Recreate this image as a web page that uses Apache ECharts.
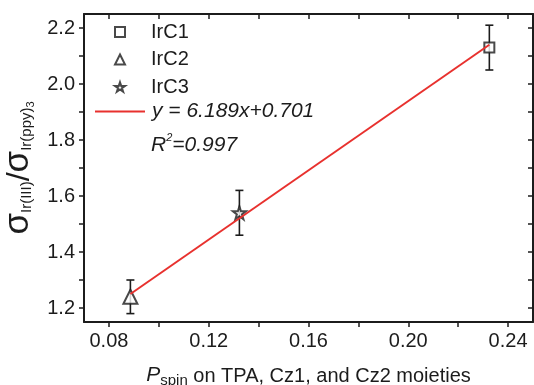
<!DOCTYPE html>
<html>
<head>
<meta charset="utf-8">
<script src="https://cdn.jsdelivr.net/npm/echarts@6/dist/echarts.min.js"></script>
<style>
html,body{margin:0;padding:0;background:#fff;}
#chart{width:534px;height:385px;}
</style>
</head>
<body>
<div id="chart"></div>
<script>
// ---- data ----
const names = ['IrC1', 'IrC2', 'IrC3'];
const pspin = [0.2325, 0.0886, 0.1323];
const sigmaRatio = [2.13, 1.24, 1.54];
const sigmaErr = [0.08, 0.06, 0.08];
const fitX = [0.0886, 0.2325];
const fitY = [1.25, 2.14];
const fitLabel = 'y = 6.189x+0.701';
const r2Label = '0.997';
// ---- ticks ----
const xTicks = [0.08, 0.10, 0.12, 0.14, 0.16, 0.18, 0.20, 0.22, 0.24];
const xLabels = [0.08, 0.12, 0.16, 0.20, 0.24];
const yTicks = [1.2, 1.3, 1.4, 1.5, 1.6, 1.7, 1.8, 1.9, 2.0, 2.1, 2.2];
const yLabels = [1.2, 1.4, 1.6, 1.8, 2.0, 2.2];
const xRange = [0.07, 0.25];
const yRange = [1.15, 2.25];

const FONT = 'Liberation Sans, Arial, sans-serif';
const INK = '#1c1c1c';
const RED = '#e8312e';
const STAR = 'path://M50,0 L61.8,35.4 L99,35.4 L69,57.3 L80.4,92.7 L50,70.8 L19.6,92.7 L31,57.3 L1,35.4 L38.2,35.4 Z';
const symbols = ['rect', 'triangle', STAR];
const symbolSizes = [10, 14, 13];

const chart = echarts.init(document.getElementById('chart'), null, {renderer: 'canvas'});

const axisLineStyle = {show: true, lineStyle: {color: INK, width: 2}};
const tickStyle = {color: INK, width: 1.5};

const scatterSeries = names.map((n, i) => ({
  name: n,
  type: 'scatter',
  xAxisIndex: 0, yAxisIndex: 0,
  symbol: symbols[i],
  symbolSize: symbolSizes[i],
  itemStyle: {color: '#fff', borderColor: INK, borderWidth: 2},
  z: 4,
  data: [[pspin[i], sigmaRatio[i]]]
}));

const errSeries = {
  type: 'custom',
  xAxisIndex: 0, yAxisIndex: 0,
  silent: true,
  z: 2,
  data: names.map((n, i) => [pspin[i], sigmaRatio[i], sigmaErr[i]]),
  renderItem: function (params, api) {
    const x = api.value(0), y = api.value(1), e = api.value(2);
    const top = api.coord([x, y + e]);
    const bot = api.coord([x, y - e]);
    const w = 4;
    const st = {stroke: INK, lineWidth: 1.6};
    return {
      type: 'group',
      children: [
        {type: 'line', shape: {x1: top[0], y1: top[1], x2: bot[0], y2: bot[1]}, style: st},
        {type: 'line', shape: {x1: top[0] - w, y1: top[1], x2: top[0] + w, y2: top[1]}, style: st},
        {type: 'line', shape: {x1: bot[0] - w, y1: bot[1], x2: bot[0] + w, y2: bot[1]}, style: st}
      ]
    };
  }
};

const fitSeries = {
  name: fitLabel,
  type: 'line',
  xAxisIndex: 0, yAxisIndex: 0,
  symbol: 'none',
  z: 5,
  lineStyle: {color: RED, width: 2},
  itemStyle: {color: RED},
  data: fitX.map((x, i) => [x, fitY[i]])
};

const option = {
  backgroundColor: '#fff',
  animation: false,
  textStyle: {fontFamily: FONT, color: INK},
  grid: {left: 84, right: 1, top: 14, bottom: 63, outerBoundsMode: 'none', containLabel: false},
  legend: [
    {
      data: names,
      orient: 'vertical',
      left: 114, top: 22,
      padding: 0,
      itemWidth: 10, itemHeight: 10,
      itemGap: 7.5,
      selectedMode: false,
      itemStyle: {borderWidth: 2, borderColor: INK, color: '#fff'},
      formatter: '{a|{name}}',
      textStyle: {
        fontFamily: FONT, fontSize: 20, color: INK,
        rich: {a: {fontFamily: FONT, fontSize: 20, color: INK, padding: [0, 0, 0, 21]}}
      }
    },
    {
      data: [{name: fitLabel, icon: 'rect', itemStyle: {color: RED, borderWidth: 0}}],
      orient: 'vertical',
      left: 95, top: 101,
      padding: 0,
      itemWidth: 50, itemHeight: 2,
      selectedMode: false,
      formatter: '{a|{name}}',
      textStyle: {
        fontFamily: FONT, fontSize: 21, fontStyle: 'italic', color: INK,
        rich: {a: {fontFamily: FONT, fontSize: 21, fontStyle: 'italic', color: INK, padding: [0, 0, 0, 2]}}
      }
    }
  ],
  graphic: [{
    type: 'text',
    left: 151, top: 132,
    style: {
      text: '{r|R}{sup|2}{r|=' + r2Label + '}',
      rich: {
        r: {fontFamily: FONT, fontSize: 21, fontStyle: 'italic', fill: INK, lineHeight: 24, verticalAlign: 'bottom'},
        sup: {fontFamily: FONT, fontSize: 11, fontStyle: 'italic', fill: INK, lineHeight: 24, verticalAlign: 'top', padding: [0, 0, 12, 0]}
      }
    }
  }],
  xAxis: [
    {
      type: 'value', position: 'bottom',
      min: xRange[0], max: xRange[1],
      axisLine: axisLineStyle,
      splitLine: {show: false},
      axisTick: {show: true, inside: false, length: 5, lineStyle: tickStyle, customValues: xTicks},
      axisLabel: {
        show: true, margin: 9, fontSize: 20, fontFamily: FONT, color: INK,
        customValues: xLabels,
        formatter: v => Number(v).toFixed(2)
      },
      name: '{p|P}{s|spin}{t| on TPA, Cz1, and Cz2 moieties}',
      nameLocation: 'middle',
      nameGap: 40,
      nameTextStyle: {
        rich: {
          p: {fontFamily: FONT, fontSize: 21, fontStyle: 'italic', color: INK, lineHeight: 24, verticalAlign: 'bottom'},
          s: {fontFamily: FONT, fontSize: 15, color: INK, lineHeight: 24, verticalAlign: 'bottom', padding: [0, 0, -2, 0]},
          t: {fontFamily: FONT, fontSize: 20, color: INK, lineHeight: 24, verticalAlign: 'bottom'}
        }
      }
    },
    {
      type: 'value', position: 'top',
      min: xRange[0], max: xRange[1],
      axisLine: axisLineStyle,
      splitLine: {show: false},
      axisTick: {show: true, inside: true, length: 5, lineStyle: tickStyle, customValues: xTicks},
      axisLabel: {show: false}
    }
  ],
  yAxis: [
    {
      type: 'value', position: 'left',
      min: yRange[0], max: yRange[1],
      axisLine: axisLineStyle,
      splitLine: {show: false},
      axisTick: {show: true, inside: false, length: 5, lineStyle: tickStyle, customValues: yTicks},
      axisLabel: {
        show: true, margin: 9, fontSize: 20, fontFamily: FONT, color: INK,
        customValues: yLabels,
        formatter: v => Number(v).toFixed(1)
      },
      name: '{g|σ}{sub|Ir(III)}{sl|/}{g|σ}{sub|Ir(ppy)}{sub3|3}',
      nameLocation: 'middle',
      nameRotate: 90,
      nameGap: 38,
      nameTextStyle: {
        rich: {
          g: {fontFamily: FONT, fontSize: 35, color: INK, lineHeight: 36, verticalAlign: 'bottom'},
          sl: {fontFamily: FONT, fontSize: 32, color: INK, lineHeight: 36, verticalAlign: 'bottom'},
          sub: {fontFamily: FONT, fontSize: 15, color: INK, lineHeight: 36, verticalAlign: 'bottom', padding: [0, 0, 2, 0]},
          sub3: {fontFamily: FONT, fontSize: 11, color: INK, lineHeight: 36, verticalAlign: 'bottom', padding: [0, 0, 0, 0]}
        }
      }
    },
    {
      type: 'value', position: 'right',
      min: yRange[0], max: yRange[1],
      axisLine: axisLineStyle,
      splitLine: {show: false},
      axisTick: {show: true, inside: true, length: 5, lineStyle: tickStyle, customValues: yTicks},
      axisLabel: {show: false}
    }
  ],
  series: [errSeries].concat(scatterSeries).concat([fitSeries])
};

chart.setOption(option);
</script>
</body>
</html>
